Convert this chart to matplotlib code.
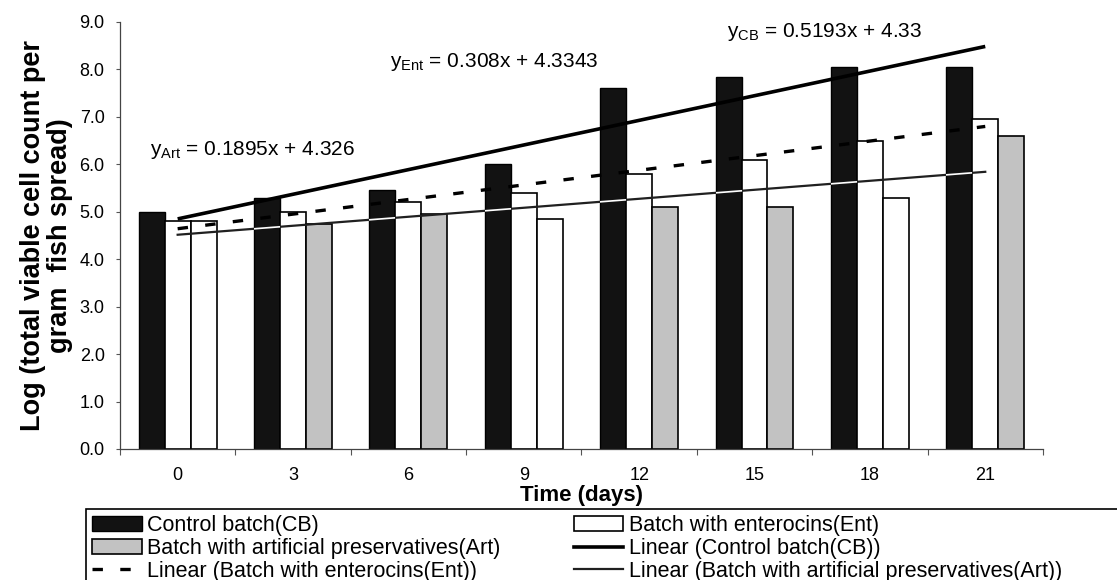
import numpy as np
import matplotlib
matplotlib.use("Agg")
import matplotlib.pyplot as plt
from matplotlib.patches import Patch, Rectangle
from matplotlib.lines import Line2D

# ─── DATA ─────────────────────────────────────────────────────────────────────
days = ["0", "3", "6", "9", "12", "15", "18", "21"]
control_cb = [5.0, 5.3, 5.45, 6.0, 7.6, 7.85, 8.05, 8.05]
enterocins_ent = [4.8, 5.0, 5.2, 5.4, 5.8, 6.1, 6.5, 6.95]
artificial_art = [4.8, 4.75, 4.95, 4.85, 5.1, 5.1, 5.3, 6.6]

# trend lines as printed on the chart (x = 1..8)
trend_slopes = {"CB": 0.5193, "Ent": 0.308, "Art": 0.1895}
trend_intercepts = {"CB": 4.33, "Ent": 4.3343, "Art": 4.326}
trend_labels = {"CB": "0.5193x + 4.33", "Ent": "0.308x + 4.3343", "Art": "0.1895x + 4.326"}
yticks = [0, 1, 2, 3, 4, 5, 6, 7, 8, 9]

# the grey fill of the Art series drops out on a few bars in the original
ART_GREY = "#c2c2c2"
art_faces = ["white", ART_GREY, ART_GREY, "white", ART_GREY, ART_GREY, "white", ART_GREY]
# ──────────────────────────────────────────────────────────────────────────────

plt.rcParams["font.family"] = ["Liberation Sans", "DejaVu Sans"]
plt.rcParams["mathtext.fontset"] = "custom"
plt.rcParams["mathtext.rm"] = "Liberation Sans"
plt.rcParams["lines.scale_dashes"] = False

fig = plt.figure(figsize=(11.17, 5.80), dpi=100)
ax = fig.add_axes([0.1074, 0.2259, 0.8263, 0.7362])

x = np.arange(len(days))
w = 0.225

cb_bars = ax.bar(x - w, control_cb, w, color="#121212", edgecolor="black", linewidth=1.0, zorder=2)
ax.bar(x, enterocins_ent, w, color="white", edgecolor="black", linewidth=1.2, zorder=2)
ax.bar(x + w, artificial_art, w, color=art_faces, edgecolor="black", linewidth=1.2, zorder=2)


def trend(key):
    xs = np.array([x[0], x[-1]])
    return xs, trend_slopes[key] * (xs + 1) + trend_intercepts[key]


xs, ys = trend("CB")
ax.plot(xs, ys, color="black", linewidth=2.6, solid_capstyle="butt", zorder=4)
xs, ys = trend("Ent")
ax.plot(xs, ys, color="black", linewidth=2.4, dashes=(7.5, 12.5), dash_capstyle="butt", zorder=4)
xs, ys = trend("Art")
ax.plot(xs, ys, color="#202020", linewidth=1.6, zorder=4)
# where the thin Art line crosses the black bars it shows up white
for bar in cb_bars:
    ln, = ax.plot(xs, ys, color="white", linewidth=1.2, zorder=5)
    ln.set_clip_path(bar)

eq_font = 15
ax.text(-0.24, 6.31, r"y$_{\mathrm{Art}}$ = " + trend_labels["Art"], fontsize=eq_font, va="center", ha="left")
ax.text(1.84, 8.16, r"y$_{\mathrm{Ent}}$ = " + trend_labels["Ent"], fontsize=eq_font, va="center", ha="left")
ax.text(4.76, 8.78, r"y$_{\mathrm{CB}}$ = " + trend_labels["CB"], fontsize=eq_font, va="center", ha="left")

ax.set_xlim(-0.5, len(days) - 0.5)
ax.set_ylim(0, 9)
ax.set_yticks(yticks)
ax.set_yticklabels([f"{v:.1f}" for v in yticks])
ax.tick_params(axis="y", direction="out", length=3, width=0.8, color="#555555", pad=8, labelsize=13)

# ticks sit between the groups, labels under each group
ax.set_xticks(np.arange(len(days) + 1) - 0.5)
ax.set_xticklabels([])
ax.tick_params(axis="x", which="major", direction="out", length=4, width=0.8, color="#555555")
ax.set_xticks(x, minor=True)
ax.set_xticklabels(days, minor=True)
ax.tick_params(axis="x", which="minor", length=0, pad=13, labelsize=13)

for side in ("top", "right"):
    ax.spines[side].set_visible(False)
for side in ("left", "bottom"):
    ax.spines[side].set_color("#444444")
    ax.spines[side].set_linewidth(0.9)

ax.set_xlabel("Time (days)", fontsize=16, fontweight="bold", labelpad=1)
ax.set_ylabel("Log (total viable cell count per\ngram  fish spread)", fontsize=19.5,
              fontweight="bold", labelpad=5, linespacing=1.05)

handles = [
    Patch(facecolor="#121212", edgecolor="black", linewidth=1.0),
    Patch(facecolor=ART_GREY, edgecolor="black", linewidth=1.2),
    Line2D([], [], color="black", linewidth=2.4, dashes=(7.5, 12.5), dash_capstyle="butt"),
    Patch(facecolor="white", edgecolor="black", linewidth=1.2),
    Line2D([], [], color="black", linewidth=2.6),
    Line2D([], [], color="#202020", linewidth=1.6),
]
labels = [
    "Control batch(CB)",
    "Batch with artificial preservatives(Art)",
    "Linear (Batch with enterocins(Ent))",
    "Batch with enterocins(Ent)",
    "Linear (Control batch(CB))",
    "Linear (Batch with artificial preservatives(Art))",
]
fig.legend(handles, labels, loc="upper left", bbox_to_anchor=(0.077, 0.1224),
           bbox_transform=fig.transFigure, ncol=2, fontsize=15.5, frameon=False,
           borderaxespad=0, borderpad=0.3, handlelength=2.3, handletextpad=0.25,
           columnspacing=3.4, labelspacing=0.08)
# legend box runs off the right and bottom edge of the picture
fig.patches.append(Rectangle((0.077, -0.05), 0.95, 0.1724, transform=fig.transFigure,
                             fill=False, edgecolor="black", linewidth=1.2))

fig.savefig("out.png", dpi=100)
